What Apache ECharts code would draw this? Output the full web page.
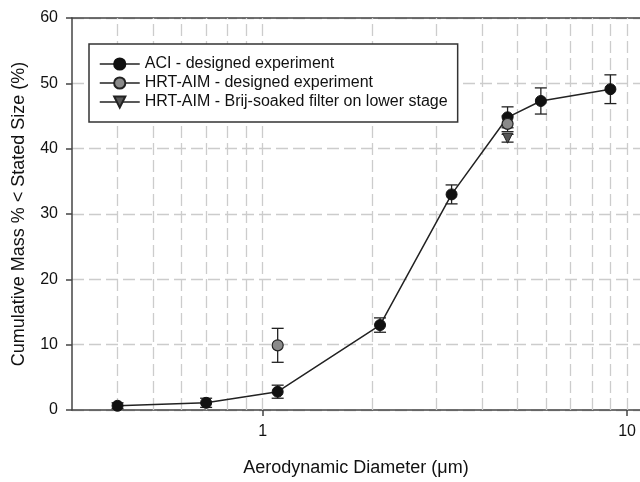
<!DOCTYPE html>
<html>
<head>
	<meta charset="utf-8">
	<title>Cumulative mass vs aerodynamic diameter</title>
	<script src="https://cdn.jsdelivr.net/npm/echarts@6/dist/echarts.min.js"></script>
	<style type="text/css">
		* { margin: 0; padding: 0; }
		body { background: #fff; }
		#main { width: 640px; height: 482px; }
	</style>
</head>
<body>
<div id="main"></div>
<script type="text/javascript">
    // stage cut-off diameters (um)
    var aciX = [0.4, 0.7, 1.1, 2.1, 3.3, 4.7, 5.8, 9.0];
    var aciY = [0.65, 1.1, 2.8, 13.0, 33.0, 44.8, 47.3, 49.1];
    var aciErr = [0.45, 0.7, 1.0, 1.1, 1.45, 1.6, 2.0, 2.2];

    var hrtX = [1.1, 4.7];
    var hrtY = [9.9, 43.8];
    var hrtErr = [2.6, 1.2];

    var brijX = [4.7];
    var brijY = [41.6];
    var brijErr = [0.6];

    // vertical grid positions on the log axis
    var gridX = [0.4, 0.5, 0.6, 0.7, 0.8, 0.9, 1, 2, 3, 4, 5, 6, 7, 8, 9, 10];
    var xLabels = [1, 10];

    var names = ['ACI - designed experiment', 'HRT-AIM - designed experiment', 'HRT-AIM - Brij-soaked filter on lower stage'];
    var font = 'Liberation Sans';

    function pts(xs, ys) {
        var out = [];
        for (var i = 0; i < xs.length; i++) out.push([xs[i], ys[i]]);
        return out;
    }
    function errs(xs, ys, es) {
        var out = [];
        for (var i = 0; i < xs.length; i++) out.push([xs[i], ys[i], ys[i] - es[i], ys[i] + es[i]]);
        return out;
    }

    function errorBar(params, api) {
        var lo = api.coord([api.value(0), api.value(2)]);
        var hi = api.coord([api.value(0), api.value(3)]);
        var w = 6;
        var st = { stroke: '#222', lineWidth: 1.3 };
        return {
            type: 'group',
            children: [
                { type: 'line', shape: { x1: lo[0], y1: lo[1], x2: hi[0], y2: hi[1] }, style: st },
                { type: 'line', shape: { x1: lo[0] - w, y1: lo[1], x2: lo[0] + w, y2: lo[1] }, style: st },
                { type: 'line', shape: { x1: hi[0] - w, y1: hi[1], x2: hi[0] + w, y2: hi[1] }, style: st }
            ]
        };
    }

    var gridLines = [];
    for (var i = 0; i < gridX.length; i++) gridLines.push({ xAxis: gridX[i] });

    var myChart = echarts.init(document.getElementById('main'));
    var option = {
        animation: false,
        textStyle: { fontFamily: font },
        grid: {
            left: 72, right: 0, top: 18, bottom: 64
        },
        legend: {
            orient: 'vertical',
            left: 89, top: 44,
            padding: [12, 10, 12, 10],
            itemWidth: 40,
            itemHeight: 14,
            itemGap: 3,
            selectedMode: false,
            backgroundColor: '#fff',
            borderColor: '#333',
            borderWidth: 1.5,
            lineStyle: { color: '#222', width: 1.5, opacity: 1 },
            textStyle: { fontFamily: font, fontSize: 16, color: '#111' },
            data: names
        },
        xAxis: [{
            type: 'log',
            logBase: 10,
            min: 0.3,
            max: 10.85,
            name: 'Aerodynamic Diameter (μm)',
            nameLocation: 'middle',
            nameGap: 49,
            nameTextStyle: { fontFamily: font, fontSize: 18, color: '#111' },
            axisLine: { lineStyle: { color: '#444', width: 1.5 } },
            axisTick: { length: 6, lineStyle: { color: '#444', width: 1.5 } },
            axisLabel: {
                margin: 14,
                fontSize: 16,
                color: '#111',
                showMinLabel: false,
                showMaxLabel: false,
                formatter: function (v) {
                    for (var k = 0; k < xLabels.length; k++) {
                        if (Math.abs(v - xLabels[k]) < 1e-6) return String(xLabels[k]);
                    }
                    return '';
                }
            },
            splitLine: { show: false }
        }, {
            // top frame line only
            type: 'log',
            logBase: 10,
            min: 0.3,
            max: 10.85,
            position: 'top',
            axisLine: { show: true, lineStyle: { color: '#444', width: 1.5 } },
            axisTick: { show: false },
            axisLabel: { show: false },
            splitLine: { show: false }
        }],
        yAxis: {
            type: 'value',
            min: 0, max: 60, interval: 10,
            name: 'Cumulative Mass % < Stated Size (%)',
            nameLocation: 'middle',
            nameGap: 44,
            nameTextStyle: { fontFamily: font, fontSize: 18, color: '#111' },
            axisLine: { show: true, lineStyle: { color: '#444', width: 1.5 } },
            axisTick: { show: true, length: 6, lineStyle: { color: '#444', width: 1.5 } },
            axisLabel: { margin: 14, fontSize: 16, color: '#111' },
            splitLine: { lineStyle: { color: '#cccccc', width: 1.3, type: [12, 5] } }
        },
        series: [
            {
                type: 'line',
                name: 'grid',
                data: [],
                silent: true,
                markLine: {
                    silent: true,
                    z: 1,
                    symbol: 'none',
                    label: { show: false },
                    lineStyle: { color: '#cccccc', width: 1.3, type: [12, 5] },
                    data: gridLines
                }
            },
            { type: 'custom', renderItem: errorBar, data: errs(aciX, aciY, aciErr), z: 3, silent: true },
            { type: 'custom', renderItem: errorBar, data: errs(hrtX, hrtY, hrtErr), z: 3, silent: true },
            { type: 'custom', renderItem: errorBar, data: errs(brijX, brijY, brijErr), z: 3, silent: true },
            {
                type: 'line',
                name: names[0],
                data: pts(aciX, aciY),
                symbol: 'circle',
                symbolSize: 11,
                z: 3,
                lineStyle: { color: '#222', width: 1.5 },
                itemStyle: { color: '#111', borderColor: '#111', borderWidth: 1 }
            },
            {
                type: 'line',
                name: names[1],
                data: pts(hrtX, hrtY),
                symbol: 'circle',
                symbolSize: 11,
                z: 3,
                lineStyle: { opacity: 0 },
                itemStyle: { color: '#8a8a8a', borderColor: '#222', borderWidth: 1.2 }
            },
            {
                type: 'line',
                name: names[2],
                data: pts(brijX, brijY),
                symbol: 'triangle',
                symbolRotate: 180,
                symbolSize: 10,
                z: 3,
                lineStyle: { opacity: 0 },
                itemStyle: { color: '#555', borderColor: '#222', borderWidth: 1 }
            }
        ]
    };
    myChart.setOption(option);
</script>
</body>
</html>
